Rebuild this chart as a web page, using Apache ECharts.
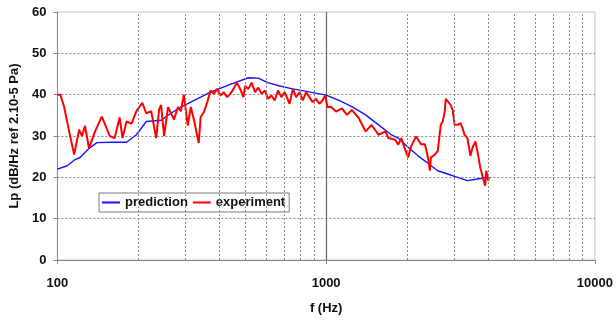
<!DOCTYPE html>
<html>
<head>
<meta charset="utf-8">
<script src="https://cdn.jsdelivr.net/npm/echarts@6/dist/echarts.min.js"></script>
<style>
html,body{margin:0;padding:0;background:#fff;}
#chart{width:616px;height:320px;}
</style>
</head>
<body>
<div id="chart"></div>
<script>
// Prediction (blue)
var predFreq = [100,108.8,116.5,121.5,131.1,140.3,159.3,180.9,196.8,214.2,243.2,264.8,288.1,313.6,371.5,440,513.6,559,606.8,671.7,749.9,844.4,1000,1116,1246,1403,1566,1748,1855,2019,2198,2392,2602,2833,3083,3355,3652,3975];
var predLevel = [22,22.8,24.3,24.8,27,28.4,28.5,28.5,30.3,33.5,33.8,35.5,37,38.2,40.6,42.5,44.1,44,42.9,42.1,41.4,40.8,39.9,38.6,37.1,35.1,32.7,30.3,29.5,27.3,25.2,23.4,21.6,20.8,20,19.2,19.6,20];

// Experiment (red)
var expFreq = [100,102.6,106,110.7,115.5,120.5,123.6,126.7,131.1,137.9,146.3,150.1,156.6,163.4,170.4,174.8,180.9,188.7,196.8,207.1,214.2,223.5,233.2,239.2,243.2,249.5,258.1,271.6,280.9,288.1,295.5,305.7,313.6,322.5,335.7,341.3,351,361.2,371.5,381.9,393.1,404.3,415.7,427.9,440,452.4,465.6,478.8,492.4,499.5,513.6,528.6,543.7,559,575.3,591.7,608.5,626.2,643.9,662.2,681.5,700.8,731.1,751.7,773.6,795.8,818.4,842.3,866.1,890.6,916.6,942.6,969.2,991.5,1011,1043,1088.5,1145,1195,1246,1323,1403,1476,1566,1662,1704,1809,1855,1903,1968,2019,2071,2161,2198,2254,2331,2392,2432,2453,2537,2602,2670,2716,2762,2786,2833,2906,2956,3006,3083,3162,3217,3271,3355,3442,3501,3591,3652,3745,3842,3907,3941,4009,4043];
var expLevel = [40,40,37,31,25.5,31.5,30,32.5,27,31,34.7,33,30,29.5,34.5,29.5,33.5,33,36,38,35.5,36,29.5,36.5,37.5,30,37,34,37,36,40,32.5,37,33.8,28.3,34.6,35.8,38.2,41,40.2,41.4,39.8,40.6,39.4,40.2,41.4,42.9,41.4,39.4,42.1,41.4,42.9,40.6,41.7,40.2,41,39,39.8,38.6,41,39.4,40.6,37.8,41.4,39.4,40.6,38.6,40.6,39.4,38.2,39,37.8,38.6,39.8,37,37,35.9,36.7,35.1,36.3,34.3,31.1,32.7,30.3,31.1,29.5,29.1,27.9,29.5,26.7,24.8,27.5,29.9,30,28,28,24.8,21.6,24.8,25.5,26.4,32.7,33.5,35.9,39,38.6,37.5,36.3,32.7,32.7,33.1,31.9,30.3,29.5,25.2,27.1,28.7,26.4,22.4,19.6,18,21.6,19.2,20];

var xTicks = [100, 1000, 10000];
var minorGridFreqs = [200,300,400,500,600,700,800,900,2000,3000,4000,5000,6000,7000,8000,9000];
var seriesNames = ['prediction', 'experiment'];

function pairs(xs, ys){ return xs.map(function(x,i){ return [x, ys[i]]; }); }

var chart = echarts.init(document.getElementById('chart'), null, {renderer:'canvas'});
var font = 'Arial, "Liberation Sans", sans-serif';
chart.setOption({
  animation: false,
  backgroundColor: '#ffffff',
  grid: {left: 55, right: 17, top: 12, bottom: 56, show: true, borderColor: '#c4c4c4', borderWidth: 1, backgroundColor: 'transparent'},
  legend: {
    left: 99, top: 193,
    data: seriesNames,
    icon: 'rect', itemWidth: 18, itemHeight: 2, itemGap: 5,
    padding: [3, 4, 3, 3],
    borderColor: '#7a7a7a', borderWidth: 1, backgroundColor: '#fff',
    textStyle: {fontFamily: font, fontSize: 13, fontWeight: 'bold', color: '#111'}
  },
  xAxis: {
    type: 'log', logBase: 10, min: 100, max: 10000,
    name: 'f (Hz)', nameLocation: 'middle', nameGap: 42,
    nameTextStyle: {fontFamily: font, fontSize: 13, fontWeight: 'bold', color: '#111'},
    axisLine: {show: true, lineStyle: {color: '#8a8a8a', width: 1}},
    axisTick: {show: true, length: 4, lineStyle: {color: '#8a8a8a'}},
    axisLabel: {fontFamily: font, fontSize: 13, fontWeight: 'bold', color: '#111', margin: 17,
      formatter: function(v){ return String(Math.round(v)); }},
    splitLine: {show: true, showMinLine: false, showMaxLine: false, lineStyle: {color: '#666', width: 1.2, type: 'solid'}},
    minorTick: {show: false}, minorSplitLine: {show: false}
  },
  yAxis: {
    type: 'value', min: 0, max: 60, interval: 10,
    name: 'Lp (dB/Hz ref 2.10-5 Pa)', nameLocation: 'middle', nameGap: 31,
    nameTextStyle: {fontFamily: font, fontSize: 13, fontWeight: 'bold', color: '#111'},
    axisLine: {show: true, lineStyle: {color: '#8a8a8a', width: 1}},
    axisTick: {show: true, length: 4, lineStyle: {color: '#8a8a8a'}},
    axisLabel: {fontFamily: font, fontSize: 13, fontWeight: 'bold', color: '#111', margin: 11},
    splitLine: {show: true, showMinLine: false, showMaxLine: false, lineStyle: {color: '#8a8a8a', width: 1, type: [2, 2]}}
  },
  series: [
    {
      name: '_grid', type: 'line', data: [], silent: true, z: 1,
      markLine: {
        silent: true, symbol: 'none', animation: false,
        label: {show: false},
        lineStyle: {color: '#8a8a8a', width: 1, type: [2, 2]},
        data: minorGridFreqs.map(function(f){ return {xAxis: f}; })
      }
    },
    {
      name: seriesNames[0], type: 'line', data: pairs(predFreq, predLevel),
      showSymbol: false, symbol: 'none', z: 3,
      lineStyle: {color: '#1515ff', width: 1.4}, itemStyle: {color: '#1515ff'}
    },
    {
      name: seriesNames[1], type: 'line', data: pairs(expFreq, expLevel),
      showSymbol: false, symbol: 'none', z: 4,
      lineStyle: {color: '#ff0000', width: 2}, itemStyle: {color: '#ff0000'}
    }
  ]
});
</script>
</body>
</html>
